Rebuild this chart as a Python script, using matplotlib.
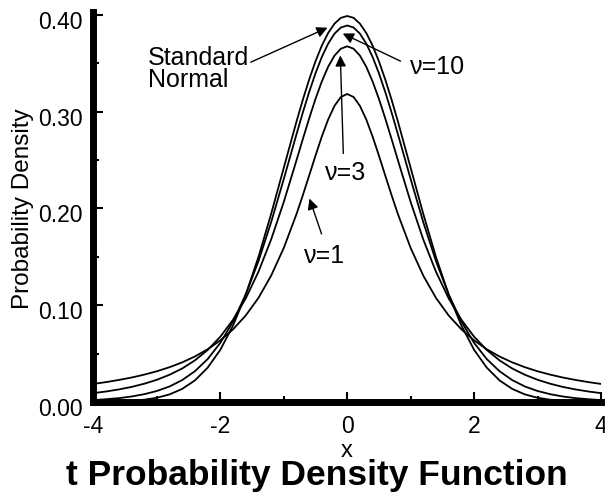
import matplotlib
matplotlib.use("Agg")
from matplotlib import pyplot as plt
import matplotlib.transforms as mtransforms

plt.rcParams['font.family'] = ['Liberation Sans', 'DejaVu Sans']

x_vals = [-4.0, -3.8, -3.6, -3.4, -3.2, -3.0, -2.8, -2.6, -2.4, -2.2, -2.0,
          -1.8, -1.6, -1.4, -1.2, -1.0, -0.8, -0.7, -0.6, -0.5, -0.4, -0.3, -0.2, -0.1, 0.0,
          0.1, 0.2, 0.3, 0.4, 0.5, 0.6, 0.7, 0.8, 1.0, 1.2, 1.4, 1.6, 1.8, 2.0,
          2.2, 2.4, 2.6, 2.8, 3.0, 3.2, 3.4, 3.6, 3.8, 4.0]

# standard normal
normal_vals = [0.0001, 0.0003, 0.0006, 0.0012, 0.0024, 0.0044, 0.0079, 0.0136, 0.0224, 0.0355, 0.0540,
               0.0790, 0.1109, 0.1497, 0.1942, 0.2420, 0.2897, 0.3123, 0.3332, 0.3521, 0.3683, 0.3814, 0.3910, 0.3970, 0.3989,
               0.3970, 0.3910, 0.3814, 0.3683, 0.3521, 0.3332, 0.3123, 0.2897, 0.2420, 0.1942, 0.1497, 0.1109, 0.0790, 0.0540,
               0.0355, 0.0224, 0.0136, 0.0079, 0.0044, 0.0024, 0.0012, 0.0006, 0.0003, 0.0001]
# nu = 10
t10_vals = [0.0020, 0.0029, 0.0040, 0.0057, 0.0081, 0.0114, 0.0161, 0.0227, 0.0319, 0.0444, 0.0611,
            0.0831, 0.1111, 0.1454, 0.1857, 0.2304, 0.2766, 0.2991, 0.3203, 0.3397, 0.3566, 0.3704, 0.3807, 0.3870, 0.3891,
            0.3870, 0.3807, 0.3704, 0.3566, 0.3397, 0.3203, 0.2991, 0.2766, 0.2304, 0.1857, 0.1454, 0.1111, 0.0831, 0.0611,
            0.0444, 0.0319, 0.0227, 0.0161, 0.0114, 0.0081, 0.0057, 0.0040, 0.0029, 0.0020]
# nu = 3
t3_vals = [0.0092, 0.0109, 0.0130, 0.0156, 0.0189, 0.0230, 0.0282, 0.0347, 0.0431, 0.0538, 0.0675,
           0.0850, 0.1070, 0.1345, 0.1678, 0.2067, 0.2497, 0.2716, 0.2930, 0.3132, 0.3313, 0.3465, 0.3580, 0.3651, 0.3676,
           0.3651, 0.3580, 0.3465, 0.3313, 0.3132, 0.2930, 0.2716, 0.2497, 0.2067, 0.1678, 0.1345, 0.1070, 0.0850, 0.0675,
           0.0538, 0.0431, 0.0347, 0.0282, 0.0230, 0.0189, 0.0156, 0.0130, 0.0109, 0.0092]
# nu = 1
t1_vals = [0.0187, 0.0206, 0.0228, 0.0253, 0.0283, 0.0318, 0.0360, 0.0410, 0.0471, 0.0545, 0.0637,
           0.0751, 0.0894, 0.1075, 0.1305, 0.1592, 0.1941, 0.2136, 0.2340, 0.2546, 0.2744, 0.2920, 0.3061, 0.3152, 0.3183,
           0.3152, 0.3061, 0.2920, 0.2744, 0.2546, 0.2340, 0.2136, 0.1941, 0.1592, 0.1305, 0.1075, 0.0894, 0.0751, 0.0637,
           0.0545, 0.0471, 0.0410, 0.0360, 0.0318, 0.0283, 0.0253, 0.0228, 0.0206, 0.0187]

x_ticks = [-4, -2, 0, 2, 4]
x_tick_labels = ['-4', '-2', '0', '2', '4']
y_ticks = [0.0, 0.1, 0.2, 0.3, 0.4]
y_tick_labels = ['0.00', '0.10', '0.20', '0.30', '0.40']

fig = plt.figure(figsize=(6.05, 4.97), dpi=100)
ax = fig.add_axes([0.1545, 0.1911, 0.8388, 0.7847])

for vals in [normal_vals, t10_vals, t3_vals, t1_vals]:
    ax.plot(x_vals, vals, color='black', lw=1.3, solid_joinstyle='round')

ax.set_xlim(-4, 4)
ax.set_ylim(0, 0.403)

ax.spines['top'].set_visible(False)
ax.spines['right'].set_visible(False)
ax.spines['left'].set_linewidth(5)
ax.spines['bottom'].set_linewidth(5)

ax.set_xticks(x_ticks)
ax.set_xticklabels(x_tick_labels)
ax.set_xticks([-3, -1, 1, 3], minor=True)
ax.set_yticks(y_ticks)
ax.set_yticklabels(y_tick_labels)
ax.set_yticks([0.05, 0.15, 0.25, 0.35], minor=True)
ax.tick_params(which='major', direction='in', length=7, width=1.5, labelsize=16.5)
ax.tick_params(which='minor', direction='in', length=4.5, width=1.5)
ax.tick_params(axis='x', which='major', pad=9)
ax.tick_params(axis='y', which='major', pad=8)

# y tick labels sit a little below their ticks
off = mtransforms.ScaledTranslation(0, -5 / 100, fig.dpi_scale_trans)
for lab in ax.get_yticklabels():
    lab.set_transform(lab.get_transform() + off)

arrow = dict(arrowstyle='-|>', color='black', lw=1.0, mutation_scale=16)

# labels on the curves
ax.text(-3.14, 0.344, 'Standard\nNormal', fontsize=18, ha='left', va='center', linespacing=0.88)
ax.annotate('', xy=(-0.27, 0.388), xytext=(-1.56, 0.350), arrowprops=arrow)
ax.text(0.99, 0.346, 'ν=10', fontsize=18, ha='left', va='center')
ax.annotate('', xy=(-0.11, 0.382), xytext=(0.88, 0.351), arrowprops=arrow)
ax.text(-0.03, 0.237, 'ν=3', fontsize=18, ha='center', va='center')
ax.annotate('', xy=(-0.11, 0.361), xytext=(-0.06, 0.254), arrowprops=arrow)
ax.text(-0.36, 0.151, 'ν=1', fontsize=18, ha='center', va='center')
ax.annotate('', xy=(-0.61, 0.213), xytext=(-0.39, 0.171), arrowprops=arrow)

fig.text(0.5736, 0.092, 'x', fontsize=17, ha='center', va='center')
fig.text(0.038, 0.5795, 'Probability Density', fontsize=17.5, rotation=90, ha='center', va='center')
fig.text(0.524, 0.0423, 't Probability Density Function', fontsize=25.5, fontweight='bold',
         ha='center', va='center')

fig.savefig('out.png', dpi=100)
plt.close()
